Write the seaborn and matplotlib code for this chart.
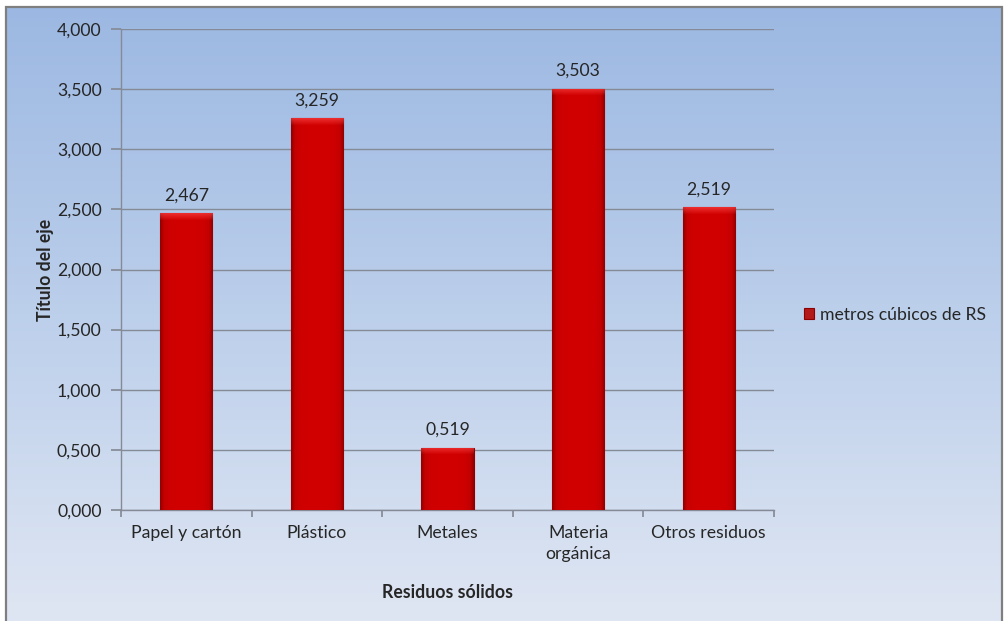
import numpy as np
import pandas as pd
import matplotlib
matplotlib.use("Agg")
import matplotlib.pyplot as plt
from matplotlib.colors import LinearSegmentedColormap, to_rgb
from matplotlib.patches import Rectangle
from matplotlib.ticker import FuncFormatter, MultipleLocator
import seaborn as sns

# Residuos sólidos (metros cúbicos)
categorias = ["Papel y cartón", "Plástico", "Metales", "Materia\norgánica", "Otros residuos"]
valores = [2.467, 3.259, 0.519, 3.503, 2.519]
serie = "metros cúbicos de RS"

sns.set_theme(style="white")
plt.rcParams["font.family"] = ["Lato", "DejaVu Sans"]
TXT = "#262626"
GRID = "#858b96"
FS = 12.7

df = pd.DataFrame({"categoria": categorias, "valor": valores, "serie": serie})

fig = plt.figure(figsize=(10.05, 6.21), dpi=100)
fig.patch.set_facecolor("white")

# gradient backdrop behind the whole chart
bg = fig.add_axes([0, 0, 1, 1], zorder=0)
bg.set_axis_off()
grad = np.linspace(0, 1, 256).reshape(-1, 1)
bg_cmap = LinearSegmentedColormap.from_list("bg", ["#9cb8e2", "#bccfeb", "#dfe6f3"])
bg.imshow(grad, cmap=bg_cmap, aspect="auto", extent=[6 / 1005, 1002 / 1005, 0, 1 - 7 / 621],
          origin="upper")
bg.set_xlim(0, 1)
bg.set_ylim(0, 1)
bg.add_patch(Rectangle((6 / 1005, -0.01), (1002 - 6) / 1005, 1 - 7 / 621 + 0.01,
                       fill=False, edgecolor="#7f7f7f", linewidth=1.6))

ax = fig.add_axes([121 / 1005, 1 - 510 / 621, (774 - 121) / 1005, (510 - 29) / 621], zorder=1)
ax.patch.set_alpha(0)

sns.barplot(data=df, x="categoria", y="valor", hue="serie", palette=["#cc0000"],
            width=0.4, ax=ax, edgecolor="#8e0000", linewidth=0.8, zorder=3)

ax.set_ylim(0, 4)
ax.set_xlim(-0.5, len(categorias) - 0.5)
ax.yaxis.set_major_locator(MultipleLocator(0.5))
fmt = lambda v, _: f"{v:.3f}".replace(".", ",")
ax.yaxis.set_major_formatter(FuncFormatter(fmt))
ax.grid(axis="y", color=GRID, linewidth=1, zorder=1)
ax.grid(axis="x", visible=False)
for s in ["top", "right"]:
    ax.spines[s].set_visible(False)
for s in ["left", "bottom"]:
    ax.spines[s].set_color(GRID)
    ax.spines[s].set_linewidth(1)

# x ticks sit on the boundaries between categories
ax.set_xticks(np.arange(-0.5, len(categorias) + 0.5, 1), minor=False)
ax.set_xticklabels([])
ax.set_xticks(np.arange(len(categorias)), minor=True)
ax.set_xticklabels(categorias, minor=True, fontsize=FS, color=TXT, linespacing=1.35)
ax.tick_params(axis="x", which="major", length=5, color=GRID, direction="out", bottom=True)
ax.tick_params(axis="x", which="minor", length=0, pad=11)
ax.tick_params(axis="y", length=7, color=GRID, direction="out", left=True, pad=7,
               labelsize=FS, labelcolor=TXT)

ax.set_xlabel("Residuos sólidos", fontsize=FS, fontweight="bold", color=TXT, labelpad=16)
ax.set_ylabel("Título del eje", fontsize=FS, fontweight="bold", color=TXT, labelpad=2)

# cylinder-like shading on each bar, with a lighter bevel on top
shade = LinearSegmentedColormap.from_list(
    "shade", [(0, "#950000"), (0.07, "#c40000"), (0.2, "#cf0000"), (0.5, "#d20000"),
              (0.8, "#cf0000"), (0.93, "#c40000"), (1, "#950000")])
hgrad = np.linspace(0, 1, 64)
base = shade(hgrad)[:, :3]
px_per_unit = (510 - 29) / 4.0
for bar in ax.patches[:len(valores)]:
    x0, w, h = bar.get_x(), bar.get_width(), bar.get_height()
    rows = max(int(round(h * px_per_unit)), 2)
    img = np.repeat(base[None, :, :], rows, axis=0)
    bevel = min(7, rows)
    for r in range(bevel):
        k = 1 - r / bevel
        img[r] = img[r] * (1 - 0.6 * k) + np.array(to_rgb("#ff4a4a")) * 0.6 * k
    im = ax.imshow(img, extent=[x0, x0 + w, 0, h], aspect="auto", origin="upper", zorder=3.5)
    im.set_clip_path(bar)
    ax.annotate(fmt(h, None), (x0 + w / 2, h), xytext=(0, 7), textcoords="offset points",
                ha="center", va="bottom", fontsize=FS, color=TXT)
ax.set_xlim(-0.5, len(categorias) - 0.5)
ax.set_ylim(0, 4)

leg = ax.legend(loc="center left", bbox_to_anchor=(788 / 1005, 1 - 315 / 621),
                bbox_transform=fig.transFigure, frameon=False, fontsize=FS,
                handlelength=0.6, handleheight=0.6, handletextpad=0.3)
for t in leg.get_texts():
    t.set_color(TXT)

fig.savefig("out.png", dpi=100)
